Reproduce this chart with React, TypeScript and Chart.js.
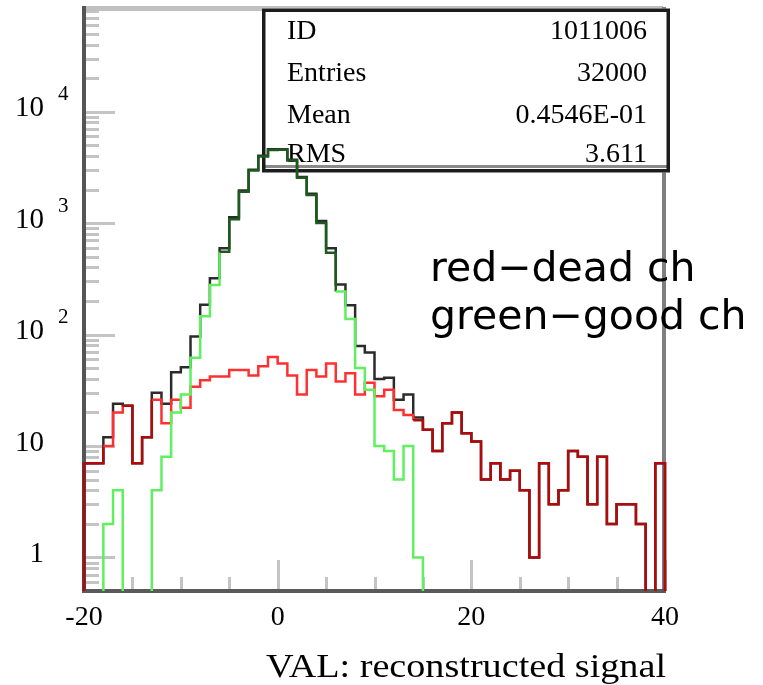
import React, { useEffect, useRef } from 'react';
import { Chart, registerables } from 'chart.js';

Chart.register(...registerables);

// Bin lower edges (bin width 1), last bin upper edge
const BIN_LOW = [
  -20, -19, -18, -17, -16, -15, -14, -13, -12, -11,
  -10, -9, -8, -7, -6, -5, -4, -3, -2, -1,
  0, 1, 2, 3, 4, 5, 6, 7, 8, 9,
  10, 11, 12, 13, 14, 15, 16, 17, 18, 19,
  20, 21, 22, 23, 24, 25, 26, 27, 28, 29,
  30, 31, 32, 33, 34, 35, 36, 37, 38, 39,
];
const BIN_HIGH_LAST = 40;

// total (black)
const TOTAL = [
  7, 7, 12, 24, 23, 7, 12, 30, 24, 46,
  51, 96, 185, 321, 596, 1132, 1960, 3006, 4018, 4600,
  4600, 3700, 2588, 1833, 1047, 596, 281, 183, 79, 69,
  40, 41, 26, 29, 18, 14, 9, 16, 20, 13,
  11, 5, 7, 5, 6, 4, 1, 7, 3, 4,
  9, 8, 3, 8, 2, 3, 3, 2, 0, 7,
];
// good channels (green)
const GOOD = [
  0, 0, 2, 4, 0, 0, 0, 4, 8, 20,
  29, 62, 146, 279, 554, 1084, 1912, 2963, 3966, 4537,
  4545, 3657, 2559, 1785, 1005, 541, 243, 138, 50, 32,
  10, 9, 5, 10, 1, 0, 0, 0, 0, 0,
  0, 0, 0, 0, 0, 0, 0, 0, 0, 0,
  0, 0, 0, 0, 0, 0, 0, 0, 0, 0,
];
// dead channels (red)
const DEAD = [
  7, 7, 10, 20, 23, 7, 12, 26, 16, 26,
  22, 34, 39, 42, 42, 48, 48, 43, 52, 63,
  55, 43, 29, 48, 42, 55, 38, 45, 29, 37,
  28, 32, 21, 19, 17, 14, 9, 16, 20, 13,
  11, 5, 7, 5, 6, 4, 1, 7, 3, 4,
  9, 8, 3, 8, 2, 3, 3, 2, 0, 7,
];

const X_MIN = -20;
const X_MAX = 40;
const Y_MIN = 0.5;
const Y_MAX = 87000;
const FLOOR = 0.05;

const X_TICK_VALUES = [-20, 0, 20, 40];
const X_TICK_TEXT = ['-20', '0', '20', '40'];
const Y_LABEL_VALUES = [1, 10, 100, 1000, 10000];
const Y_LABEL_BASE = ['1', '10', '10', '10', '10'];
const Y_LABEL_EXP = ['', '', '2', '3', '4'];
const STAT_NAMES = ['ID', 'Entries', 'Mean', 'RMS'];
const STAT_VALUES = ['1011006', '32000', '0.4546E-01', '3.611'];
const NOTE_LINES = ['red\u2212dead ch', 'green\u2212good ch'];
const X_TITLE = 'VAL: reconstructed signal';

const SERIF = '"Liberation Serif", "DejaVu Serif", serif';

function steps(counts: number[]) {
  const pts: { x: number; y: number }[] = [{ x: BIN_LOW[0], y: FLOOR }];
  counts.forEach((c, i) => pts.push({ x: BIN_LOW[i], y: c > 0 ? c : FLOOR }));
  pts.push({ x: BIN_HIGH_LAST, y: FLOOR });
  return pts;
}

function binOf(c: any) {
  return Math.min(BIN_LOW.length - 1, Math.max(0, c.p0DataIndex - 1));
}

const decor = {
  id: 'decor',
  beforeDatasetsDraw(chart: any) {
    const { ctx, chartArea: a, scales } = chart;
    const y = scales.y;
    const x = scales.x;
    ctx.save();
    // minor/major ticks on y axis
    ctx.strokeStyle = '#c4c4c4';
    ctx.lineWidth = 3;
    for (let d = -1; d <= 5; d++) {
      for (let k = 1; k <= 9; k++) {
        const v = k * Math.pow(10, d);
        if (v < Y_MIN || v > Y_MAX) continue;
        const py = Math.round(y.getPixelForValue(v)) + 0.5;
        const len = k === 1 ? 31 : 15;
        ctx.beginPath();
        ctx.moveTo(a.left, py);
        ctx.lineTo(a.left + len, py);
        ctx.stroke();
      }
    }
    // ticks on x axis
    for (let v = X_MIN; v <= X_MAX; v += 5) {
      const px = Math.round(x.getPixelForValue(v)) + 0.5;
      const len = v % 20 === 0 ? 31 : 14;
      ctx.beginPath();
      ctx.moveTo(px, a.bottom);
      ctx.lineTo(px, a.bottom - len);
      ctx.stroke();
    }
    // frame
    ctx.fillStyle = '#c0c0c0';
    ctx.fillRect(a.left - 2, a.top - 1, a.right - a.left, 5);
    ctx.fillStyle = '#7f7f7f';
    ctx.fillRect(a.right - 3, a.top, 4, a.bottom - a.top);
    ctx.fillStyle = '#555555';
    ctx.fillRect(a.left - 2, a.top - 1, 4, a.bottom - a.top + 3);
    ctx.fillStyle = '#5a5a5a';
    ctx.fillRect(a.left - 2, a.bottom - 2, a.right - a.left + 3, 4);

    // stats box
    const bx = 262, by = 8.5, bw = 408, bh = 164;
    ctx.fillStyle = '#ffffff';
    ctx.fillRect(bx, by, bw, bh);
    ctx.fillStyle = '#8a8a8a';
    ctx.fillRect(bx + 2, by + bh - 7.5, bw - 4, 3);
    ctx.strokeStyle = '#1c1c1c';
    ctx.lineWidth = 3.5;
    ctx.strokeRect(bx + 1.75, by + 1.75, bw - 3.5, bh - 3.5);
    ctx.fillStyle = '#000000';
    ctx.font = '28px ' + SERIF;
    ctx.textBaseline = 'alphabetic';
    const baselines = [39, 81, 123, 162];
    STAT_NAMES.forEach((n, i) => {
      ctx.textAlign = 'left';
      ctx.fillText(n, 287, baselines[i]);
      ctx.textAlign = 'right';
      ctx.fillText(STAT_VALUES[i], 647, baselines[i]);
    });
    ctx.restore();
  },
  afterDraw(chart: any) {
    const { ctx, chartArea: a, scales } = chart;
    const y = scales.y;
    const x = scales.x;
    ctx.save();
    ctx.fillStyle = '#000000';
    // y labels
    Y_LABEL_VALUES.forEach((v, i) => {
      const py = y.getPixelForValue(v);
      ctx.font = '29px ' + SERIF;
      ctx.textAlign = 'right';
      ctx.textBaseline = 'middle';
      ctx.fillText(Y_LABEL_BASE[i], 44, py - 3);
      if (Y_LABEL_EXP[i]) {
        ctx.font = '21px ' + SERIF;
        ctx.textAlign = 'left';
        ctx.fillText(Y_LABEL_EXP[i], 58, py - 17);
      }
    });
    // x labels
    ctx.font = '28px ' + SERIF;
    ctx.textAlign = 'center';
    ctx.textBaseline = 'middle';
    X_TICK_VALUES.forEach((v, i) => {
      ctx.fillText(X_TICK_TEXT[i], x.getPixelForValue(v), 618);
    });
    // x title, stretched to reference width
    ctx.font = '34px ' + SERIF;
    ctx.textAlign = 'left';
    ctx.textBaseline = 'alphabetic';
    const w = ctx.measureText(X_TITLE).width;
    const target = 400;
    ctx.save();
    ctx.translate(a.right + 1 - target, 677);
    ctx.scale(target / w, 1);
    ctx.fillText(X_TITLE, 0, 0);
    ctx.restore();
    // note text
    ctx.font = '41px "DejaVu Sans", sans-serif';
    ctx.textAlign = 'left';
    ctx.textBaseline = 'alphabetic';
    ctx.fillText(NOTE_LINES[0], 430, 281);
    ctx.fillText(NOTE_LINES[1], 430, 329);
    ctx.restore();
  },
};

export default function App() {
  const ref = useRef<HTMLCanvasElement>(null);
  useEffect(() => {
    const canvas = ref.current as HTMLCanvasElement;
    const clip = { left: 3, top: 0, right: 3, bottom: 0 };
    const chart = new Chart(canvas, {
      type: 'line',
      data: {
        datasets: [
          {
            label: 'green-good ch',
            data: steps(GOOD),
            stepped: 'before',
            borderWidth: 2.5,
            borderColor: '#5ef05e',
            pointRadius: 0,
            fill: false,
            clip,
            order: 0,
            segment: {
              borderColor: (c: any) => {
                const b = binOf(c);
                return TOTAL[b] === 0 || GOOD[b] / TOTAL[b] >= 0.9 ? '#1d5a1d' : '#5ef05e';
              },
            },
          } as any,
          {
            label: 'red-dead ch',
            data: steps(DEAD),
            stepped: 'before',
            borderWidth: 2.5,
            borderColor: '#ff3030',
            pointRadius: 0,
            fill: false,
            clip,
            order: 1,
            segment: {
              borderColor: (c: any) => {
                const b = binOf(c);
                return TOTAL[b] === 0 || DEAD[b] / TOTAL[b] >= 0.9 ? '#b00a0a' : '#ff3030';
              },
            },
          } as any,
          {
            label: 'total',
            data: steps(TOTAL),
            stepped: 'before',
            borderWidth: 2.5,
            borderColor: '#2b2b2b',
            pointRadius: 0,
            fill: false,
            clip,
            order: 2,
          } as any,
        ],
      },
      options: {
        animation: false,
        responsive: false,
        maintainAspectRatio: false,
        devicePixelRatio: 1,
        events: [],
        layout: { padding: { left: 84, top: 7, right: 98, bottom: 94 } },
        plugins: { legend: { display: false }, tooltip: { enabled: false } },
        scales: {
          x: { type: 'linear', min: X_MIN, max: X_MAX, display: false },
          y: { type: 'logarithmic', min: Y_MIN, max: Y_MAX, display: false },
        },
        elements: { point: { radius: 0 }, line: { tension: 0 } },
      } as any,
      plugins: [decor],
    });
    return () => chart.destroy();
  }, []);
  return (
    <div style={{ position: 'absolute', left: 0, top: 0, width: 763, height: 685, background: '#ffffff' }}>
      <canvas ref={ref} width={763} height={685} style={{ display: 'block', width: 763, height: 685 }} />
    </div>
  );
}
